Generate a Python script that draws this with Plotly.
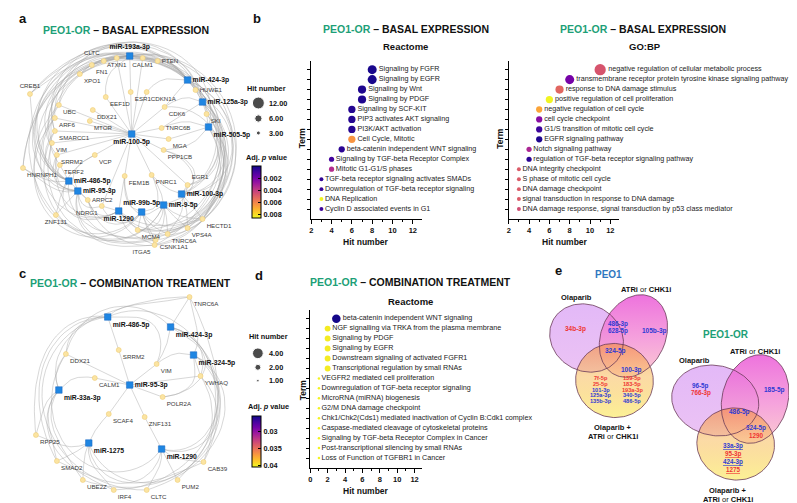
import math
import plotly.graph_objects as go

W, H = 797, 503
FONT = "Liberation Sans, Arial, sans-serif"
GREEN = "#1d9f77"
PEO1_BLUE = "#2f77c0"
RED = "#ef3434"
BLUE = "#2e3ad4"

# ======================= DATA =======================
# b: Reactome, basal expression
reac_terms = ["Signaling by FGFR", "Signaling by EGFR", "Signaling by Wnt", "Signaling by PDGF",
              "Signaling by SCF-KIT", "PIP3 activates AKT signaling", "PI3K/AKT activation",
              "Cell Cycle, Mitotic", "beta-catenin independent WNT signaling",
              "Signaling by TGF-beta Receptor Complex", "Mitotic G1-G1/S phases",
              "TGF-beta receptor signaling activates SMADs",
              "Downregulation of TGF-beta receptor signaling", "DNA Replication",
              "Cyclin D associated events in G1"]
reac_hits = [8, 8, 7, 7, 6, 6, 6, 6, 5, 4, 4, 3, 3, 3, 3]
reac_padj = [0.0002, 0.0002, 0.0003, 0.0003, 0.0004, 0.0004, 0.0004, 0.0064, 0.0005,
             0.0009, 0.0035, 0.0006, 0.0007, 0.0085, 0.0008]

# b: GO:BP, basal expression
gobp_terms = ["negative regulation of cellular metabolic process",
              "transmembrane receptor protein tyrosine kinase signaling pathway",
              "response to DNA damage stimulus", "positive regulation of cell proliferation",
              "negative regulation of cell cycle", "cell cycle checkpoint",
              "G1/S transition of mitotic cell cycle", "EGFR signaling pathway",
              "Notch signaling pathway", "regulation of TGF-beta receptor signaling pathway",
              "DNA integrity checkpoint", "S phase of mitotic cell cycle", "DNA damage checkpoint",
              "signal transduction in response to DNA damage",
              "DNA damage response, signal transduction by p53 class mediator"]
gobp_hits = [11, 8, 7, 6, 5, 5, 5, 5, 4, 4, 3, 3, 3, 3, 3]
gobp_padj = [0.0047, 0.0020, 0.0052, 0.0085, 0.0068, 0.0024, 0.0008, 0.0003, 0.0033, 0.0005,
             0.0049, 0.0049, 0.0049, 0.0049, 0.0045]

# d: Reactome, combination treatment
comb_terms = ["beta-catenin independent WNT signaling",
              "NGF signalling via TRKA from the plasma membrane", "Signaling by PDGF",
              "Signaling by EGFR", "Downstream signaling of activated FGFR1",
              "Transcriptional regulation by small RNAs", "VEGFR2 mediated cell proliferation",
              "Downregulation of TGF-beta receptor signaling", "MicroRNA (miRNA) biogenesis",
              "G2/M DNA damage checkpoint",
              "Chk1/Chk2(Cds1) mediated inactivation of Cyclin B:Cdk1 complex",
              "Caspase-mediated cleavage of cytoskeletal proteins",
              "Signaling by TGF-beta Receptor Complex in Cancer",
              "Post-transcriptional silencing by small RNAs", "Loss of Function of TGFBR1 in Cancer"]
comb_hits = [3, 2, 2, 2, 2, 2, 1, 1, 1, 1, 1, 1, 1, 1, 1]
comb_padj = [0.0258, 0.0400, 0.0400, 0.0400, 0.0400, 0.0400, 0.0403, 0.0403, 0.0403, 0.0403,
             0.0403, 0.0403, 0.0403, 0.0403, 0.0403]

legend_hits_b = [12, 6, 3]
legend_hits_d = [4, 2, 1]
cbar_ticks_b = [0.002, 0.004, 0.006, 0.008]
cbar_ticks_d = [0.03, 0.035, 0.04]
padj_range_b = [0.0, 0.0086]
padj_range_d = [0.0256, 0.0405]

# a: miRNA-target network (basal expression), node layout coordinates
neta_genes = ["CLTC", "ATXN1", "CALM1", "PTEN", "FN1", "XPO1", "CREB1", "HUWE1", "ESR1", "CDKN1A",
              "EEF1D", "UBC", "CDK6", "SKI", "ARF6", "DDX21", "MTOR", "TNRC6B", "SMARCC1", "MGA",
              "VIM", "PPP1CB", "SRRM2", "VCP", "HNRNPH1", "TERF2", "FEM1B", "PNRC1", "EGR1",
              "ARPC2", "NDRG1", "ZNF131", "HECTD1", "VPS4A", "MCM4", "TNRC6A", "CSNK1A1", "ITGA5"]
neta_gene_x = [94, 107, 133, 148, 82, 70, 20, 186, 121, 137, 96, 49, 155, 197, 45, 83, 80, 152,
               45, 159, 42, 154, 47, 85, 13, 50, 115, 142, 178, 78, 92, 46, 193, 178, 128, 158,
               146, 145]
neta_gene_y = [53, 50, 50, 53, 57, 66, 86, 82, 84, 84, 89, 97, 99, 106, 110, 102, 113, 120, 123,
               131, 135, 142, 147, 147, 160, 157, 168, 167, 177, 192, 198, 207, 211, 220, 222,
               226, 232, 237]
neta_mirs = ["miR-193a-3p", "miR-424-3p", "miR-125a-3p", "miR-505-5p", "miR-100-5p",
             "miR-486-5p", "miR-95-3p", "miR-99b-5p", "miR-1290", "miR-9-5p", "miR-100-3p"]
neta_mir_x = [120, 178, 193, 199, 122, 59, 68, 132, 109, 154, 172]
neta_mir_y = [48, 72, 94, 119, 126, 173, 183, 204, 203, 197, 186]
neta_edges = {
    "miR-100-5p": ["ESR1", "EEF1D", "CDKN1A", "DDX21", "MTOR", "TNRC6B", "MGA", "PPP1CB", "VCP",
                   "FEM1B", "PNRC1", "CDK6", "UBC", "SMARCC1", "VIM", "ATXN1", "CALM1", "ARF6",
                   "EGR1", "NDRG1", "SRRM2"],
    "miR-193a-3p": ["CLTC", "ATXN1", "CALM1", "PTEN", "FN1", "XPO1", "CREB1", "ESR1", "HUWE1",
                    "UBC", "VIM", "SRRM2", "HNRNPH1", "ZNF131", "ITGA5", "MCM4", "HECTD1", "EEF1D",
                    "SMARCC1", "TNRC6A"],
    "miR-424-3p": ["PTEN", "HUWE1", "CDKN1A", "SKI", "CDK6", "ARF6", "SMARCC1", "VIM", "TERF2",
                   "XPO1", "CALM1", "VPS4A", "CSNK1A1", "ITGA5", "CLTC", "HNRNPH1"],
    "miR-125a-3p": ["HUWE1", "SKI", "CDK6", "TNRC6B", "EGR1", "HECTD1", "VPS4A", "CREB1", "UBC",
                    "FN1", "ZNF131", "MCM4"],
    "miR-505-5p": ["SKI", "EGR1", "HECTD1", "TNRC6B", "MGA", "PPP1CB", "TNRC6A", "ARPC2", "CREB1"],
    "miR-486-5p": ["TERF2", "SRRM2", "VIM", "ARF6", "SMARCC1", "HNRNPH1", "ZNF131", "ARPC2",
                   "XPO1", "CLTC", "PTEN", "HUWE1", "CSNK1A1"],
    "miR-95-3p": ["ARPC2", "NDRG1", "ZNF131", "SRRM2", "TERF2", "VCP", "HNRNPH1", "CREB1", "FN1",
                  "CSNK1A1", "ITGA5", "HECTD1"],
    "miR-99b-5p": ["FEM1B", "PNRC1", "MCM4", "ITGA5", "CSNK1A1", "ARPC2", "NDRG1", "HECTD1",
                   "TNRC6A", "UBC", "ARF6"],
    "miR-1290": ["NDRG1", "ARPC2", "MCM4", "ITGA5", "FEM1B", "VCP", "SRRM2", "UBC", "CDK6",
                 "HUWE1", "SKI"],
    "miR-9-5p": ["PNRC1", "EGR1", "TNRC6A", "VPS4A", "CSNK1A1", "MCM4", "HECTD1", "PPP1CB",
                 "FEM1B", "VIM", "SMARCC1"],
    "miR-100-3p": ["EGR1", "HECTD1", "VPS4A", "TNRC6A", "PNRC1", "PPP1CB", "SKI", "HUWE1", "XPO1",
                   "CLTC"],
}

# c: miRNA-target network (combination treatment)
netc_genes = ["TNRC6A", "DDX21", "SRRM2", "VIM", "YWHAQ", "CALM1", "POLR2A", "SCAF4", "ZNF131",
              "RPP25", "SMAD2", "CAB39", "UBE2Z", "PUM2", "IRF4", "CLTC"]
netc_gene_x = [180, 56, 109, 147, 191, 85, 153, 99, 135, 26, 47, 194, 73, 168, 104, 137]
netc_gene_y = [289, 346, 342, 356, 368, 370, 389, 406, 409, 427, 453, 454, 472, 472, 482, 482]
netc_mirs = ["miR-486-5p", "miR-424-3p", "miR-324-5p", "miR-95-3p", "miR-33a-3p", "miR-1275",
             "miR-1290"]
netc_mir_x = [98, 161, 184, 120, 49, 79, 152]
netc_mir_y = [309, 319, 347, 377, 382, 435, 441]
netc_edges = {
    "miR-95-3p": ["SRRM2", "VIM", "CALM1", "POLR2A", "SCAF4", "ZNF131", "DDX21", "YWHAQ"],
    "miR-486-5p": ["SRRM2", "DDX21", "TNRC6A", "VIM", "CLTC", "SMAD2", "RPP25", "CAB39"],
    "miR-424-3p": ["TNRC6A", "VIM", "YWHAQ", "POLR2A", "CAB39", "IRF4", "DDX21"],
    "miR-324-5p": ["TNRC6A", "YWHAQ", "POLR2A", "VIM", "PUM2", "UBE2Z", "CLTC"],
    "miR-33a-3p": ["CALM1", "DDX21", "SMAD2", "RPP25", "IRF4", "TNRC6A", "UBE2Z"],
    "miR-1275": ["SCAF4", "RPP25", "SMAD2", "UBE2Z", "IRF4", "CAB39", "YWHAQ"],
    "miR-1290": ["ZNF131", "CLTC", "PUM2", "CAB39", "SMAD2", "YWHAQ", "DDX21", "TNRC6A"],
}

# e: Venn diagram contents (miRNA, regulation direction, underlined)
venn_peo1 = {
    "olap": [("34b-3p", "up", False)],
    "olap_atri": [("486-3p", "down", False), ("628-5p", "down", False)],
    "atri": [("105b-3p", "down", False)],
    "all": [("324-5p", "down", False)],
    "atri_comb": [("100-3p", "down", False)],
    "comb_a": [("7f-5p", "up", False), ("25-5p", "up", False), ("101-3p", "down", False),
               ("125a-3p", "down", False), ("135b-3p", "down", False)],
    "comb_b": [("139-5p", "up", False), ("183-5p", "up", False), ("193a-3p", "up", False),
               ("340-5p", "down", False), ("486-5p", "down", False)],
}
venn_peo1or = {
    "olap": [("96-5p", "down", False), ("766-3p", "up", False)],
    "atri": [("185-5p", "down", False)],
    "all": [("486-5p", "down", False)],
    "atri_comb": [("324-5p", "down", False), ("1290", "up", False)],
    "comb": [("33a-3p", "down", True), ("95-3p", "up", True), ("424-3p", "down", True),
             ("1275", "up", True)],
}

# ======================= LAYOUT HELPERS =======================
fig = go.Figure()
ann = []


def txt(x, y, s, size, color="#111", bold=False, xanchor="center", yanchor="middle", angle=0):
    ann.append(dict(x=x, y=y, xref="x", yref="y", text=s, showarrow=False, textangle=angle,
                    font=dict(family=FONT, size=size, color=color,
                              weight="bold" if bold else "normal"),
                    xanchor=xanchor, yanchor=yanchor, borderpad=0))


def size_b(h):
    return 4.6 * math.sqrt(h) - 4


def size_d(h):
    return 8.2 * math.sqrt(h) - 5.7


# ---------------- networks ----------------
def net_edges_xy(nodes, edges, center, R0, step, mod):
    xs, ys = [], []
    i = 0
    cx, cy = center
    for mir, genes in edges.items():
        for g in genes:
            p, q = nodes[mir], nodes[g]
            r1 = math.hypot(p[0] - cx, p[1] - cy)
            r2 = math.hypot(q[0] - cx, q[1] - cy)
            if r1 < 20 or r2 < 20 or math.hypot(p[0] - q[0], p[1] - q[1]) < 28:
                xs += [p[0], q[0], None]
                ys += [p[1], q[1], None]
            else:
                a1 = math.atan2(p[1] - cy, p[0] - cx)
                a2 = math.atan2(q[1] - cy, q[0] - cx)
                da = (a2 - a1 + math.pi) % (2 * math.pi) - math.pi
                k = min(1.0, abs(da) / (math.pi * 0.55))
                R = R0 + (i % mod) * step
                n = 30
                for j in range(n + 1):
                    t = j / n
                    r = (1 - t) * r1 + t * r2
                    r += (R - r) * math.sin(math.pi * t) * k
                    a = a1 + da * t
                    xs.append(cx + r * math.cos(a))
                    ys.append(cy + r * math.sin(a))
                xs.append(None)
                ys.append(None)
            i += 1
    return xs, ys


def draw_network(genes, gx, gy, gpos, mirs, mx, my, mpos, edges, center, R0, step, mod):
    nodes = {g: (x, y) for g, x, y in zip(genes, gx, gy)}
    nodes.update({m: (x, y) for m, x, y in zip(mirs, mx, my)})
    ex, ey = net_edges_xy(nodes, edges, center, R0, step, mod)
    fig.add_trace(go.Scatter(x=ex, y=ey, mode="lines", line=dict(color="rgba(165,165,165,0.75)",
                                                                  width=0.6),
                             hoverinfo="skip", showlegend=False))
    fig.add_trace(go.Scatter(x=gx, y=gy, mode="markers+text", text=genes, textposition=gpos,
                             textfont=dict(family=FONT, size=6.2, color="#3a3a3a"),
                             marker=dict(size=5, color="#fbe4a2",
                                         line=dict(color="#ecc96c", width=0.5)),
                             hoverinfo="skip", showlegend=False, cliponaxis=False))
    fig.add_trace(go.Scatter(x=mx, y=my, mode="markers+text", text=mirs, textposition=mpos,
                             textfont=dict(family=FONT, size=6.8, color="#111", weight="bold"),
                             marker=dict(size=6.5, symbol="square", color="#1f86e2",
                                         line=dict(color="#1565c0", width=0.5)),
                             hoverinfo="skip", showlegend=False, cliponaxis=False))


neta_gene_tp = ["top left", "bottom center", "bottom center", "middle right", "bottom right",
                "bottom right", "top center", "middle right", "bottom right", "bottom right",
                "bottom right", "bottom right", "bottom right", "bottom right", "bottom right",
                "bottom right", "bottom right", "middle right", "bottom right", "bottom right",
                "bottom right", "bottom right", "bottom right", "bottom right", "bottom right",
                "bottom right", "bottom right", "bottom right", "top right", "middle right",
                "bottom left", "bottom center", "bottom right", "bottom right", "bottom right",
                "bottom right", "bottom right", "bottom left"]
neta_mir_tp = ["top center", "middle right", "middle right", "bottom right", "bottom center",
               "middle right", "middle right", "top center", "bottom center", "middle right",
               "middle right"]
draw_network(neta_genes, neta_gene_x, neta_gene_y, neta_gene_tp, neta_mirs, neta_mir_x,
             neta_mir_y, neta_mir_tp, neta_edges, (121, 140), 90, 3.2, 6)

netc_gene_tp = ["bottom right"] * len(netc_genes)
netc_mir_tp = ["bottom right", "bottom right", "bottom right", "middle right", "bottom right",
               "bottom right", "bottom right"]
draw_network(netc_genes, netc_gene_x, netc_gene_y, netc_gene_tp, netc_mirs, netc_mir_x,
             netc_mir_y, netc_mir_tp, netc_edges, (122, 386), 84, 3.0, 5)


# ---------------- Venn diagrams ----------------
def ellipse(cx, cy, rx, ry, ang, n=140):
    a = math.radians(ang)
    xs, ys = [], []
    for i in range(n + 1):
        t = 2 * math.pi * i / n
        x0, y0 = rx * math.cos(t), ry * math.sin(t)
        xs.append(cx + x0 * math.cos(a) - y0 * math.sin(a))
        ys.append(cy + x0 * math.sin(a) + y0 * math.cos(a))
    return xs, ys


def draw_venn(olap, atri, comb):
    shapes = []
    for (cx, cy, rx, ry, ang), grad in [
        (olap, [[0, "rgba(222,172,246,0.85)"], [1, "rgba(232,184,242,0.85)"]]),
        (atri, [[0, "rgba(234,84,214,0.82)"], [0.55, "rgba(243,140,212,0.8)"],
                [1, "rgba(250,192,196,0.8)"]]),
        (comb, [[0, "rgba(246,140,58,0.6)"], [0.45, "rgba(249,196,110,0.62)"],
                [1, "rgba(252,240,135,0.88)"]]),
    ]:
        xs, ys = ellipse(cx, cy, rx, ry, ang)
        shapes.append((xs, ys))
        fig.add_trace(go.Scatter(x=xs, y=ys, mode="lines", fill="toself", line=dict(width=0),
                                 fillgradient=dict(type="vertical", colorscale=grad,
                                                   start=min(ys), stop=max(ys)),
                                 hoverinfo="skip", showlegend=False))
    for xs, ys in shapes:
        fig.add_trace(go.Scatter(x=xs, y=ys, mode="lines",
                                 line=dict(color="#6a3a58", width=0.8),
                                 hoverinfo="skip", showlegend=False))


def venn_labels(regions, anchors):
    for key, items in regions.items():
        x0, y0, dy, fs = anchors[key]
        for i, (name, direction, und) in enumerate(items):
            s = f"<u>{name}</u>" if und else name
            txt(x0, y0 + i * dy, s, fs, RED if direction == "up" else BLUE, bold=True)


draw_venn((578, 330, 38, 33, 28), (625, 328, 32, 43, 25), (606, 372.5, 39, 37, 10))
draw_venn((707, 392.5, 44, 35, 12), (747, 391, 33, 45, 15), (727.5, 436, 39, 36, 10))

peo1_anchor = {"olap": (567, 321, 6, 6.5), "olap_atri": (610, 315.5, 7, 6.3),
               "atri": (646, 322.7, 6, 6.5), "all": (607, 343.3, 6, 6.5),
               "atri_comb": (623.3, 362.3, 6, 6.5),
               "comb_a": (592, 370, 5.8, 5.6), "comb_b": (624, 370, 5.8, 5.6)}
peo1or_anchor = {"olap": (692.7, 378.3, 7, 6.3), "atri": (766, 381.7, 6, 6.5),
                 "all": (731, 404.3, 6, 6.5), "atri_comb": (748, 420, 7.5, 6.3),
                 "comb": (725, 438.3, 7.8, 6.3)}
venn_labels(venn_peo1, peo1_anchor)
venn_labels(venn_peo1or, peo1or_anchor)

txt(600, 266, "PEO1", 10, PEO1_BLUE, bold=True)
txt(568, 289, "Olaparib", 7.5, bold=True)
txt(638, 281, "<b>ATRi</b> or <b>CHK1i</b>", 7.5)
txt(605, 419.5, "Olaparib +", 7.5, bold=True)
txt(605, 428.5, "<b>ATRi</b> or <b>CHK1i</b>", 7.5)
txt(718, 326, "PEO1-OR", 10, GREEN, bold=True)
txt(686, 352, "Olaparib", 7.5, bold=True)
txt(747, 343.5, "<b>ATRi</b> or <b>CHK1i</b>", 7.5)
txt(720, 482, "Olaparib +", 7.5, bold=True)
txt(720, 491, "<b>ATRi</b> or <b>CHK1i</b>", 7.5)

# ---------------- dot plots ----------------
def dot_trace(terms, hits, padj, xa, ya, cax, sizefn):
    return go.Scatter(x=hits, y=list(range(len(terms))), mode="markers+text", text=terms,
                      textposition="middle right",
                      textfont=dict(family=FONT, size=7.2, color="#222"),
                      marker=dict(size=[sizefn(h) for h in hits], color=[-p for p in padj],
                                  coloraxis=cax, line=dict(width=0), opacity=1),
                      xaxis=xa, yaxis=ya, cliponaxis=False, showlegend=False, hoverinfo="skip")


fig.add_trace(dot_trace(reac_terms, reac_hits, reac_padj, "x2", "y2", "coloraxis", size_b))
fig.add_trace(dot_trace(gobp_terms, gobp_hits, gobp_padj, "x3", "y3", "coloraxis", size_b))
fig.add_trace(dot_trace(comb_terms, comb_hits, comb_padj, "x4", "y4", "coloraxis2", size_d))

# size legends
fig.add_trace(go.Scatter(x=[249] * 3, y=[95, 110.5, 125], mode="markers",
                         marker=dict(size=[size_b(h) for h in legend_hits_b], color="black"),
                         hoverinfo="skip", showlegend=False))
fig.add_trace(go.Scatter(x=[248.5] * 3, y=[345.3, 359.3, 372.7], mode="markers",
                         marker=dict(size=[size_d(h) for h in legend_hits_d], color="black"),
                         hoverinfo="skip", showlegend=False))
for h, yy in zip(legend_hits_b, [95, 110.5, 125]):
    txt(259, yy, f"{h:.2f}", 7.3, bold=True, xanchor="left")
for h, yy in zip(legend_hits_d, [345.3, 359.3, 372.7]):
    txt(259, yy, f"{h:.2f}", 7.3, bold=True, xanchor="left")
txt(257, 80, "Hit number", 7.3, bold=True)
txt(257, 149.5, "Adj. <i>p</i> value", 7.3, bold=True)
txt(259, 328.5, "Hit number", 7.3, bold=True)
txt(259, 398.5, "Adj. <i>p</i> value", 7.3, bold=True)


def xax(x0, x1, rng, tickvals, minorvals, anchor):
    return dict(domain=[x0 / W, x1 / W], range=rng, anchor=anchor, showline=True,
                linecolor="black", linewidth=1.4, ticks="outside", ticklen=4, tickwidth=1.2,
                tickcolor="black", tickmode="array", tickvals=tickvals,
                tickfont=dict(family=FONT, size=7.5, color="#111", weight="bold"),
                showgrid=False, zeroline=False, fixedrange=True,
                minor=dict(ticks="outside", ticklen=2, tickwidth=1, tickcolor="black",
                           tickmode="array", tickvals=minorvals, showgrid=False))


def yax(top, bottom, anchor):
    return dict(domain=[1 - bottom / H, 1 - top / H], range=[15.0, -0.87], anchor=anchor,
                showline=True, linecolor="black", linewidth=1.4, ticks="outside", ticklen=3,
                tickwidth=1.2, tickcolor="black", tickmode="array", tickvals=list(range(15)),
                showticklabels=False, showgrid=False, zeroline=False, fixedrange=True)


def cbar(ticks, y_top, y_bot):
    return dict(x=242.3 / W, xanchor="left", y=1 - (y_top + y_bot) / 2 / H, yanchor="middle",
                len=y_bot - y_top, lenmode="pixels", thickness=9.4, thicknessmode="pixels",
                xpad=0, ypad=0, outlinewidth=1, outlinecolor="black", borderwidth=0,
                tickmode="array", tickvals=[-v for v in ticks], ticktext=[f"{v:g}" for v in ticks],
                ticks="inside", ticklen=3, tickcolor="black",
                tickfont=dict(family=FONT, size=7.3, color="#111", weight="bold"))


# titles and labels
title_tpl = f"<span style='color:{GREEN}'>PEO1-OR</span> – " + "{}"
txt(13, 10, "a", 13, bold=True)
txt(248, 10, "b", 13, bold=True)
txt(13, 265, "c", 13, bold=True)
txt(250, 267, "d", 13, bold=True)
txt(550, 262, "e", 13, bold=True)
txt(116, 21.5, title_tpl.format("BASAL EXPRESSION"), 10.5, bold=True)
txt(397, 21, title_tpl.format("BASAL EXPRESSION"), 10.5, bold=True)
txt(635, 21, title_tpl.format("BASAL EXPRESSION"), 10.5, bold=True)
txt(121, 275, title_tpl.format("COMBINATION TREATMENT"), 10.5, bold=True)
txt(402, 274, title_tpl.format("COMBINATION TREATMENT"), 10.5, bold=True)
txt(396, 38, "Reactome", 9.5, bold=True)
txt(637, 38, "GO:BP", 9.5, bold=True)
txt(402, 293, "Reactome", 9.5, bold=True)
txt(293, 130, "Term", 8.5, bold=True, angle=-90)
txt(491, 130, "Term", 8.5, bold=True, angle=-90)
txt(294, 382, "Term", 8.5, bold=True, angle=-90)
txt(357, 234, "Hit number", 8.5, bold=True)
txt(556, 234, "Hit number", 8.5, bold=True)
txt(357, 483, "Hit number", 8.5, bold=True)

fig.update_layout(
    width=W, height=H, autosize=False, margin=dict(l=0, r=0, t=0, b=0, pad=0),
    paper_bgcolor="white", plot_bgcolor="rgba(0,0,0,0)", showlegend=False,
    font=dict(family=FONT, color="#111"),
    xaxis=dict(domain=[0, 1], range=[0, W], visible=False, fixedrange=True),
    yaxis=dict(domain=[0, 1], range=[H, 0], visible=False, fixedrange=True),
    xaxis2=xax(302, 413, [2, 12.9], [2, 4, 6, 8, 10, 12], [3, 5, 7, 9, 11], "y2"),
    yaxis2=yax(53, 211, "x2"),
    xaxis3=xax(500, 611, [2, 12.9], [2, 4, 6, 8, 10, 12], [3, 5, 7, 9, 11], "y3"),
    yaxis3=yax(53, 211, "x3"),
    xaxis4=xax(301, 413, [0, 12.85], [0, 2, 4, 6, 8, 10, 12], [1, 3, 5, 7, 9, 11], "y4"),
    yaxis4=yax(302, 460, "x4"),
    coloraxis=dict(colorscale="Plasma_r", cmin=-padj_range_b[1], cmax=-padj_range_b[0],
                   colorbar=cbar(cbar_ticks_b, 158.3, 210)),
    coloraxis2=dict(colorscale="Plasma_r", cmin=-padj_range_d[1], cmax=-padj_range_d[0],
                    colorbar=cbar(cbar_ticks_d, 408.3, 459)),
    annotations=ann,
)

fig.write_html("out.html")
